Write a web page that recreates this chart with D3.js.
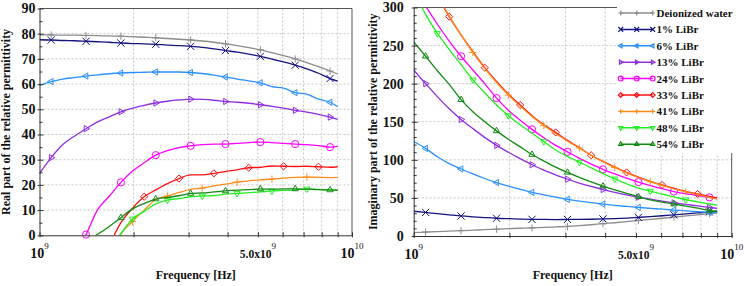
<!DOCTYPE html>
<html>
<head>
<meta charset="utf-8">
<script src="https://cdn.jsdelivr.net/npm/d3@7"></script>
<style>
  body { margin: 0; background: #fff; }
  svg { display: block; }
</style>
</head>
<body>
<svg id="chart" width="744" height="286" font-family="Liberation Serif"></svg>
<script>
// frequency grid in GHz
const freqGHz = [1.000, 1.090, 1.187, 1.293, 1.409, 1.535, 1.672, 1.822, 1.985, 2.162, 2.355, 2.566, 2.795,
  3.045, 3.317, 3.614, 3.937, 4.289, 4.672, 5.090, 5.545, 6.040, 6.580, 7.169, 7.809, 8.507, 9.000];

const seriesNames = ["Deionized water", "1% LiBr", "6% LiBr", "13% LiBr", "24% LiBr",
  "33% LiBr", "41% LiBr", "48% LiBr", "54% LiBr"];

// real part
const reWater = [79.5,79.5,79.4,79.4,79.3,79.2,79.1,79.0,78.8,78.6,78.4,78.1,77.8,77.5,77.1,76.6,76.0,75.3,74.5,73.6,72.5,71.3,70.0,68.5,66.9,65.2,64.0];
const re1  = [77.6,77.5,77.3,77.2,77.0,76.8,76.6,76.3,76.1,76.0,75.8,75.5,75.3,75.0,74.6,74.0,73.3,72.7,71.9,71.0,69.9,68.8,67.5,66.0,64.3,62.2,61.2];
const re6  = [59.5,61.0,62.0,62.6,63.2,63.7,64.1,64.4,64.6,64.7,64.8,64.8,64.8,64.6,64.2,63.6,62.8,62.0,61.3,60.5,59.0,58.4,56.6,56.0,54.0,52.8,51.0];
const re13 = [24.5,30.8,36.0,39.3,42.3,45.0,47.0,49.0,50.5,51.6,52.5,53.2,53.7,54.0,53.9,53.6,53.1,52.8,52.4,51.8,51.2,50.5,49.6,48.9,48.0,46.9,46.0];
const re24 = [null,null,null,-8,0.3,10.2,15.5,21.0,25.5,28.8,31.8,33.6,34.8,35.5,36.0,36.2,36.2,36.5,36.8,37.0,36.8,36.5,36.2,36.0,35.6,35.0,35.3];
const re33 = [null,null,null,null,null,null,-4,5.0,10.8,15.3,18.0,20.5,22.5,24.0,24.0,24.6,25.3,26.0,26.8,27.0,27.5,27.4,27.3,27.4,27.2,27.0,27.2];
const re41 = [null,null,null,null,null,null,-6,0.8,5.5,10.0,14.2,15.6,17.0,18.2,18.7,19.6,20.3,21.1,21.6,22.0,22.3,22.7,23.0,23.1,23.0,22.9,23.0];
const re48 = [null,null,null,null,null,null,-8,0.5,6.5,9.5,12.5,14.0,14.6,15.3,15.6,15.8,16.3,16.6,16.9,17.2,17.6,17.8,18.0,18.4,18.2,18.0,18.0];
const re54 = [null,null,null,null,-2.5,0.4,3.5,7.0,10.5,12.6,14.4,15.0,15.7,16.6,16.8,17.2,17.6,17.9,18.1,18.4,18.3,18.4,18.4,18.3,18.1,18.0,17.8];

// imaginary part
const imWater = [4.5,5.2,5.8,6.4,7.0,7.6,8.3,9.0,9.7,10.2,10.6,11.2,11.9,12.6,13.6,14.8,16.2,17.4,18.8,20.3,21.8,23.3,24.8,26.3,27.8,29.4,30.5];
const im1  = [32.5,31.0,29.3,27.8,26.3,25.2,24.2,23.3,22.7,22.2,21.9,21.7,21.6,21.7,21.8,22.0,22.4,22.9,23.6,24.5,25.5,26.6,27.8,29.0,30.3,31.7,32.8];
const im6  = [124,115,104,95,88,81.5,75.5,70.2,65.5,61.3,57.3,54.0,51.0,48.0,45.8,43.7,41.8,40.2,38.8,37.5,36.3,35.2,34.1,33.0,32.0,31.0,30.3];
const im13 = [218,200,183,167,153,141,129.5,119,110,101.5,93.5,86.5,80.3,74.5,69.5,65.0,61.0,57.3,54.0,51.0,48.3,45.8,43.5,41.4,39.5,37.6,36.3];
const im24 = [328,302,278,256,236,218,200,181,165,152,140,129,119,110.5,102,94.5,87.5,81.5,76,70.8,66.3,62.2,58.4,55.5,53.0,50.7,49.3];
const im33 = [null,null,316,288,264,242,221,203,186,172,158,146,136,125.5,116,106,98,90.5,83.5,77.3,71.8,67,62.6,58.6,55.2,52,50.0];
const im41 = [null,null,316,289,264,241,220,201.5,185,170.5,157,145,134.5,124.5,115.5,106,97.5,90,83,76.8,71.3,66.5,62,58,54.3,50.8,48.5];
const im48 = [322,291,266,245,225,205,188,172,158,146,135,124,113,104.5,97,89.5,82,75,68.5,63,59,55,51.5,47.7,44.8,42,40.5];
const im54 = [255,236,217,199,179,163,150,138,127,117,107,98.5,90.5,83.5,77,71,65.5,60.5,56,51.5,47.5,44.5,42,39.3,36.5,33.5,32.3];

const realTicks = [0, 10, 20, 30, 40, 50, 60, 70, 80, 90];
const imagTicks = [0, 50, 100, 150, 200, 250, 300];

// styles
const colors = ["#8c8c8c", "#14147f", "#2a90ff", "#8e2de2", "#ff00ff", "#ff1010", "#ff8c1a", "#22ee22", "#128a12"];
const shapes = ["plus", "x", "triLeft", "triRight", "circle", "diamond", "plus", "triDown", "triUp"];
const markOffset = [1, 1, 1, 1, 1, 0, 2, 2, 1];
const FONT = "Liberation Serif";

const svg = d3.select("#chart");

function markerPath(shape, r) {
  const a = r * 0.87, b = r * 0.5;
  switch (shape) {
    case "plus": return `M${-r},0H${r}M0,${-r}V${r}`;
    case "x": return `M${-r},${-r}L${r},${r}M${-r},${r}L${r},${-r}`;
    case "circle": return `M${r},0A${r},${r} 0 1,1 ${-r},0A${r},${r} 0 1,1 ${r},0Z`;
    case "diamond": return `M0,${-r}L${r},0L0,${r}L${-r},0Z`;
    case "triUp": return `M0,${-r}L${a},${b}L${-a},${b}Z`;
    case "triDown": return `M0,${r}L${a},${-b}L${-a},${-b}Z`;
    case "triLeft": return `M${-r},0L${b},${-a}L${b},${a}Z`;
    case "triRight": return `M${r},0L${-b},${-a}L${-b},${a}Z`;
  }
}

function panel(p) {
  const x = d3.scaleLog().domain([1, 10]).range([p.x0, p.x1]);
  const y = d3.scaleLinear().domain([0, p.yMax]).range([p.yBot, p.yTop]);
  const g = svg.append("g");

  // grid
  const minorF = [2, 3, 4, 5, 6, 7, 8, 9];
  g.selectAll(".vgrid").data(minorF).join("line")
    .attr("x1", d => x(d)).attr("x2", d => x(d))
    .attr("y1", p.yTop).attr("y2", p.yBot)
    .attr("stroke", "#c4c4c4").attr("stroke-dasharray", "2,2");
  g.selectAll(".hgrid").data(p.ticks.slice(1, -1)).join("line")
    .attr("x1", p.x0).attr("x2", p.x1)
    .attr("y1", d => y(d)).attr("y2", d => y(d))
    .attr("stroke", "#c4c4c4").attr("stroke-dasharray", "2,2");

  // frame
  g.append("path")
    .attr("d", `M${p.x0},${p.yTop}H${p.x1}V${p.yBot}`)
    .attr("fill", "none").attr("stroke", "#555");

  const clipId = "clip" + p.id;
  svg.append("clipPath").attr("id", clipId).append("rect")
    .attr("x", p.x0).attr("y", p.yTop).attr("width", p.x1 - p.x0).attr("height", p.yBot - p.yTop);

  const line = d3.line()
    .defined(d => d[1] != null)
    .x(d => x(d[0])).y(d => y(d[1]))
    .curve(d3.curveMonotoneX);

  p.series.forEach((vals, i) => {
    const pts = freqGHz.map((f, k) => [f, vals[k]]);
    g.append("path")
      .attr("d", line(pts))
      .attr("clip-path", `url(#${clipId})`)
      .attr("fill", "none").attr("stroke", colors[i]).attr("stroke-width", 1.3);
    const marks = pts.filter((d, k) => k % 3 === markOffset[i] && k < pts.length - 1 &&
      d[1] != null && d[1] >= -0.5 && d[1] <= p.yMax);
    g.selectAll(null).data(marks).join("path")
      .attr("transform", d => `translate(${x(d[0])},${y(d[1])})`)
      .attr("d", markerPath(shapes[i], 3.6))
      .attr("fill", "none").attr("stroke", colors[i]).attr("stroke-width", 1);
  });

  // y axis
  const yMinor = d3.range(0, p.yMax + 0.01, p.minor);
  const ya = g.append("g").attr("transform", `translate(${p.x0},0)`)
    .call(d3.axisLeft(y).tickValues(yMinor)
      .tickFormat(d => d % p.major === 0 ? d : "")
      .tickSizeInner(-4).tickSizeOuter(0).tickPadding(p.labelPad));
  ya.attr("font-family", FONT);
  ya.select(".domain").attr("stroke", "#333");
  ya.selectAll(".tick line").attr("stroke", "#333")
    .attr("x1", d => d % p.major === 0 ? -2 : 0)
    .attr("x2", d => d % p.major === 0 ? 4 : 3);
  ya.selectAll(".tick text").attr("font-family", FONT)
    .attr("font-size", 14).attr("font-weight", "bold").attr("fill", "#111");

  // x axis
  const xa = g.append("g").attr("transform", `translate(0,${p.yBot})`)
    .call(d3.axisBottom(x).tickValues([1, 2, 3, 4, 5, 6, 7, 8, 9, 10]).tickFormat("")
      .tickSizeInner(-3).tickSizeOuter(0));
  xa.select(".domain").attr("stroke", "#333");
  xa.selectAll(".tick line").attr("stroke", "#333").attr("y1", 2).attr("y2", -3);

  const xLabels = [
    { f: 1, base: "10", sup: "9", size: 14 },
    { f: 5, base: "5.0x10", sup: "9", size: 11.5 },
    { f: 10, base: "10", sup: "10", size: 14 }
  ];
  xLabels.forEach(l => {
    const t = g.append("text")
      .attr("x", x(l.f)).attr("y", p.yBot + 23).attr("font-family", FONT)
      .attr("text-anchor", "middle").attr("font-weight", "bold").attr("fill", "#111");
    t.append("tspan").attr("font-size", l.size).text(l.base);
    t.append("tspan").attr("font-size", 9).attr("font-weight", "normal").attr("dy", -9).text(l.sup);
  });

  g.append("text")
    .attr("x", (p.x0 + p.x1) / 2).attr("y", 279).attr("font-family", FONT)
    .attr("text-anchor", "middle").attr("font-size", 12).attr("font-weight", "bold")
    .attr("fill", "#111").text("Frequency [Hz]");

  g.append("text")
    .attr("transform", `translate(${p.titleX},${(p.yTop + p.yBot) / 2}) rotate(-90)`)
    .attr("font-family", FONT)
    .attr("text-anchor", "middle").attr("font-size", 12).attr("font-weight", "bold")
    .attr("fill", "#111").text(p.title);

  return { x, y };
}

panel({
  id: "re", x0: 39.5, x1: 352, yTop: 8.5, yBot: 235.3, yMax: 90, major: 10, minor: 5,
  ticks: realTicks, labelPad: 4, titleX: 10,
  title: "Real part of the relative permittivity",
  series: [reWater, re1, re6, re13, re24, re33, re41, re48, re54]
});

panel({
  id: "im", x0: 413.7, x1: 731.7, yTop: 7.5, yBot: 236, yMax: 300, major: 50, minor: 10,
  ticks: imagTicks, labelPad: 10, titleX: 377,
  title: "Imaginary part of the relative permittivity",
  series: [imWater, im1, im6, im13, im24, im33, im41, im48, im54]
});

// legend
const lg = svg.append("g");
lg.append("rect").attr("x", 617).attr("y", 0).attr("width", 127).attr("height", 153).attr("fill", "#fff");
const rowY = d => 13 + d * 16.4;
seriesNames.forEach((name, i) => {
  const row = lg.append("g").attr("transform", `translate(0,${rowY(i)})`);
  row.append("line").attr("x1", 620.7).attr("x2", 652.7)
    .attr("stroke", colors[i]).attr("stroke-width", 1.5);
  [620.7, 636.7, 652.7].forEach(mx => {
    row.append("path").attr("transform", `translate(${mx},0)`)
      .attr("d", markerPath(shapes[i], 2.4))
      .attr("fill", "none").attr("stroke", colors[i]).attr("stroke-width", 1.2);
  });
  row.append("text").attr("x", 656.5).attr("y", 4).attr("font-family", FONT)
    .attr("font-size", 11).attr("font-weight", "bold").attr("fill", "#111").text(name);
});
</script>
</body>
</html>
